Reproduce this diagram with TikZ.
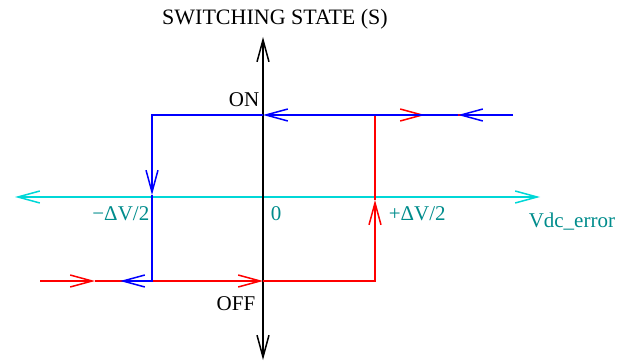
\documentclass[tikz,border=0pt]{standalone}
\usepackage{fontspec}
\setmainfont{Liberation Serif}
\usetikzlibrary{arrows.meta}
\definecolor{cyanline}{RGB}{0,215,215}
\definecolor{tealtxt}{RGB}{0,140,140}
\definecolor{redline}{RGB}{255,0,0}
\definecolor{blueline}{RGB}{0,0,255}
\begin{document}
\begin{tikzpicture}[x=1pt,y=-1pt,line width=1.5pt,
  >={Straight Barb[length=22pt,width=12pt]},
  lbl/.style={inner sep=0pt,font=\fontsize{21}{25}\selectfont},
  tlbl/.style={lbl,text=tealtxt}]
\useasboundingbox (0,0) rectangle (636,363);
% axes
\coordinate (ytop) at (263,37);
\coordinate (ybot) at (263,360);
\coordinate (xl) at (15,197);
\coordinate (xr) at (540,197);
% red (rising) path
\coordinate (r0) at (40,281);
\coordinate (r1) at (95,281);
\coordinate (r2) at (263,281);
\coordinate (r4) at (375,200);
\coordinate (r6) at (425,115);
\coordinate (r7) at (513,115);
% blue (falling) path
\coordinate (b0) at (513,115);
\coordinate (b1) at (458,115);
\coordinate (b2) at (263,115);
\coordinate (b4) at (152,195);
\coordinate (b6) at (120,281);

\draw[cyanline,<->] (xl) -- (xr);
\draw[black,<->] (ytop) -- (ybot);

\draw[redline,->] (r0) -- (r1);
\draw[redline,->] (r1) -- (r2);
\draw[redline,->] (r2) -| (r4);
\draw[redline,->] (r4) |- (r6);
\draw[redline] (r6) -- (r7);

\draw[blueline,->] (b0) -- (b1);
\draw[blueline,->] (b1) -- (b2);
\draw[blueline,->] (b2) -| (b4);
\draw[blueline,->] (b4) |- (b6);

\node[lbl,anchor=base,font=\fontsize{22}{26}\selectfont] (title) at (275,25) {SWITCHING STATE (S)};
\node[lbl,anchor=base east] (on) at (260,107) {ON};
\node[lbl,anchor=base east] (off) at (256,310) {OFF};
\node[tlbl,anchor=base east] (mdv) at (150,220) {−ΔV/2};
\node[tlbl,anchor=base west] (zero) at (270,220) {0};
\node[tlbl,anchor=base west] (pdv) at (388,220) {+ΔV/2};
\node[tlbl,anchor=base west] (vdc) at (528,227) {Vdc\_error};
\end{tikzpicture}
\end{document}
